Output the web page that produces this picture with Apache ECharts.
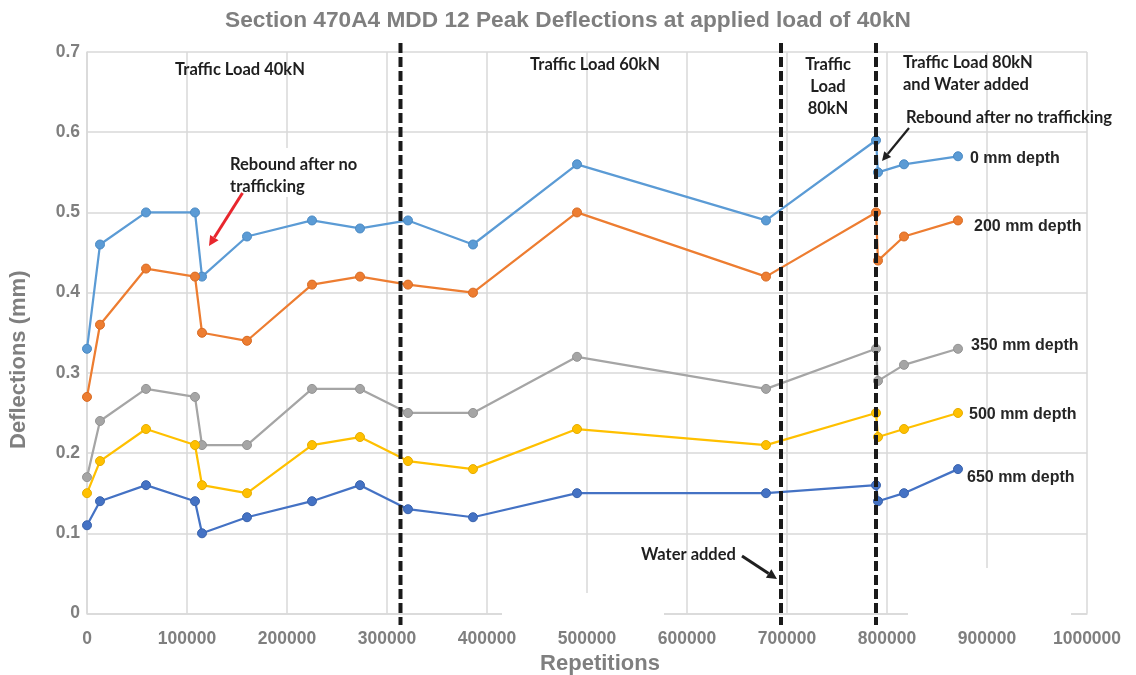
<!DOCTYPE html>
<html>
<head>
<meta charset="utf-8">
<script src="https://cdn.jsdelivr.net/npm/echarts@6/dist/echarts.min.js"></script>
<style>html,body{margin:0;padding:0;background:#fff;}#c{width:1136px;height:675px;}</style>
</head>
<body>
<div id="c"></div>
<script>
// ---- data ----
const titleText = 'Section 470A4 MDD 12 Peak Deflections at applied load of 40kN';
const reps = [0, 13000, 59000, 108000, 115000, 160000, 225000, 273000, 321000, 386000, 490000, 679000, 789000, 791000, 817000, 871000];
const depth0   = [0.33, 0.46, 0.50, 0.50, 0.42, 0.47, 0.49, 0.48, 0.49, 0.46, 0.56, 0.49, 0.59, 0.55, 0.56, 0.57];
const depth200 = [0.27, 0.36, 0.43, 0.42, 0.35, 0.34, 0.41, 0.42, 0.41, 0.40, 0.50, 0.42, 0.50, 0.44, 0.47, 0.49];
const depth350 = [0.17, 0.24, 0.28, 0.27, 0.21, 0.21, 0.28, 0.28, 0.25, 0.25, 0.32, 0.28, 0.33, 0.29, 0.31, 0.33];
const depth500 = [0.15, 0.19, 0.23, 0.21, 0.16, 0.15, 0.21, 0.22, 0.19, 0.18, 0.23, 0.21, 0.25, 0.22, 0.23, 0.25];
const depth650 = [0.11, 0.14, 0.16, 0.14, 0.10, 0.12, 0.14, 0.16, 0.13, 0.12, 0.15, 0.15, 0.16, 0.14, 0.15, 0.18];
const seriesNames = ['0 mm depth', '200 mm depth', '350 mm depth', '500 mm depth', '650 mm depth'];
const seriesValues = [depth0, depth200, depth350, depth500, depth650];
const dividerReps = [313500, 694000, 789000];
const xAxisName = 'Repetitions';
const yAxisName = 'Deflections (mm)';

// ---- styling ----
const colors = ['#5B9BD5', '#ED7D31', '#A5A5A5', '#FFC000', '#4472C4'];
const borders = ['#4a8ac4', '#d86a22', '#949494', '#e6ad00', '#3a63ad'];
const tickColor = '#7f7f7f';
const gridColor = '#d9d9d9';
const annColor = '#1f1f1f';

const chart = echarts.init(document.getElementById('c'), null, {renderer: 'canvas'});

const series = seriesNames.map((name, k) => ({
  name: name,
  type: 'line',
  data: reps.map((r, i) => [r, seriesValues[k][i]]),
  symbol: 'circle',
  symbolSize: 9,
  lineStyle: {color: colors[k], width: 2.25},
  itemStyle: {color: colors[k], borderColor: borders[k], borderWidth: 1},
  emphasis: {disabled: true},
  z: 3
}));

chart.setOption({
  animation: false,
  backgroundColor: '#fff',
  title: {
    text: titleText,
    left: 'center',
    top: 4,
    textStyle: {fontFamily: 'Liberation Sans', fontWeight: 'bold', fontSize: 22.7, color: tickColor}
  },
  grid: {left: 87, right: 49, top: 52, bottom: 61.5, containLabel: false, outerBoundsMode: 'none'},
  xAxis: {
    type: 'value',
    min: 0, max: 1000000, interval: 100000,
    name: xAxisName,
    nameLocation: 'middle',
    nameGap: 39,
    nameTextStyle: {fontFamily: 'Liberation Sans', fontWeight: 'bold', fontSize: 22, color: tickColor, padding: [0, 0, 0, 26]},
    axisLine: {show: true, lineStyle: {color: gridColor, width: 1.5}},
    axisTick: {show: false},
    axisLabel: {margin: 17, fontFamily: 'Liberation Sans', fontWeight: 'bold', fontSize: 17.5, color: tickColor,
      formatter: v => String(v)},
    splitLine: {show: true, lineStyle: {color: gridColor, width: 1.5}}
  },
  yAxis: {
    type: 'value',
    min: 0, max: 0.7, interval: 0.1,
    name: yAxisName,
    nameLocation: 'middle',
    nameGap: 57,
    nameRotate: 90,
    nameTextStyle: {fontFamily: 'Liberation Sans', fontWeight: 'bold', fontSize: 22, color: tickColor, padding: [0, 54, 0, 0]},
    axisLine: {show: true, lineStyle: {color: gridColor, width: 1.5}},
    axisTick: {show: false},
    axisLabel: {margin: 7, fontFamily: 'Liberation Sans', fontWeight: 'bold', fontSize: 17.5, color: tickColor},
    splitLine: {show: true, lineStyle: {color: gridColor, width: 1.5}}
  },
  series: series
});

// ---- annotations ----
function txt(text, x, y, opts) {
  opts = opts || {};
  return {
    type: 'text', x: x, y: y, z: 10,
    style: {
      text: text,
      fontFamily: opts.family || 'Lato',
      fontWeight: 'bold',
      fontSize: opts.size || 16.5,
      lineHeight: opts.lh || 22,
      fill: opts.fill || annColor,
      align: opts.align || 'left',
      verticalAlign: 'middle'
    }
  };
}
function arrow(x1, y1, x2, y2, color, w, hl, hw) {
  const dx = x2 - x1, dy = y2 - y1, L = Math.sqrt(dx*dx + dy*dy);
  const ux = dx / L, uy = dy / L;
  const bx = x2 - ux * hl, by = y2 - uy * hl;
  const px = -uy, py = ux;
  return [
    {type: 'line', z: 10, shape: {x1: x1, y1: y1, x2: bx, y2: by}, style: {stroke: color, lineWidth: w}},
    {type: 'polygon', z: 10, shape: {points: [[x2, y2], [bx + px*hw, by + py*hw], [bx - px*hw, by - py*hw]]}, style: {fill: color}}
  ];
}

const g = [];
// white cover boxes (text-box fills of the original)
g.push({type: 'rect', z: 1, shape: {x: 502, y: 593, width: 162, height: 24}, style: {fill: '#fff'}});
g.push({type: 'rect', z: 1, shape: {x: 908, y: 568, width: 163, height: 49}, style: {fill: '#fff'}});
g.push({type: 'rect', z: 1, shape: {x: 226, y: 148, width: 150, height: 49}, style: {fill: '#fff'}});

// dashed dividers
dividerReps.forEach(r => {
  const px = chart.convertToPixel({xAxisIndex: 0}, r);
  g.push({type: 'line', z: 9, shape: {x1: px, y1: 43, x2: px, y2: 625},
    style: {stroke: '#1a1a1a', lineWidth: 4, lineDash: [10, 4]}});
});

g.push(txt('Traffic Load 40kN', 240, 70, {align: 'center'}));
g.push(txt('Traffic Load 60kN', 595, 65, {align: 'center'}));
g.push(txt('Traffic\nLoad\n80kN', 828, 87, {align: 'center'}));
g.push(txt('Traffic Load 80kN\nand Water added', 903, 74));
g.push(txt('Rebound after no trafficking', 906, 118));
g.push(txt('Rebound after no\ntrafficking', 230, 176));
g.push(txt('Water added', 641, 555));

const depthLabelPos = [[970, 159], [974, 227], [971, 346], [969, 415], [967, 478]];
seriesNames.forEach((n, k) => {
  g.push(txt(n, depthLabelPos[k][0], depthLabelPos[k][1], {family: 'Liberation Sans', size: 16, fill: '#262626'}));
});

arrow(242.5, 193, 209, 246, '#e8262d', 3, 10, 5).forEach(e => g.push(e));
arrow(909, 128, 882, 161, '#1f1f1f', 2.2, 9, 4.5).forEach(e => g.push(e));
arrow(742, 556, 777, 579, '#1f1f1f', 3, 10, 5).forEach(e => g.push(e));

chart.setOption({graphic: g});
</script>
</body>
</html>
